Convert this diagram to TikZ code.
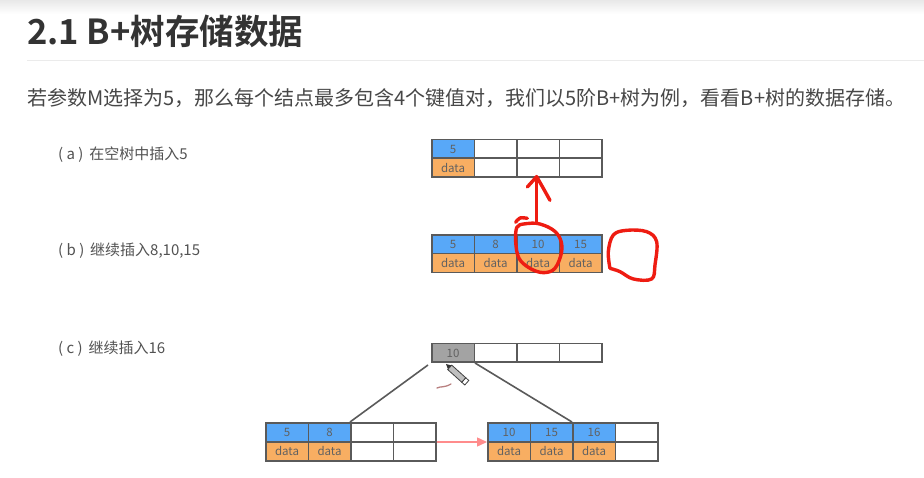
\documentclass[tikz,border=0pt]{standalone}
\usepackage{fontspec}
\setmainfont{Noto Sans CJK SC}
\newfontfamily\titlefont{Noto Sans CJK SC Bold}
\usetikzlibrary{arrows.meta}
\definecolor{keyblue}{HTML}{58A8F8}
\definecolor{valorange}{HTML}{F8AE62}
\definecolor{rootgray}{HTML}{A3A3A3}
\definecolor{edgegray}{HTML}{5A5A5A}
\definecolor{inkred}{HTML}{EE1C12}
\tikzset{
  cell/.style={draw=edgegray,line width=1.5pt,anchor=north west,inner sep=0pt,minimum width=42.5pt,text=black!62,font=\fontsize{11.5}{11.5}\selectfont},
  keycell/.style={cell,fill=keyblue,minimum height=18.5pt},
  valcell/.style={cell,fill=valorange,minimum height=19pt},
  emptycell/.style={cell,fill=white,minimum height=18.5pt},
  emptyval/.style={cell,fill=white,minimum height=19pt},
  rootcell/.style={cell,fill=rootgray,minimum height=18.5pt},
  caption/.style={anchor=west,inner sep=0pt,text=black!68,font=\fontsize{15}{16}\selectfont},
  scribble/.style={draw=inkred,line width=3.4pt,line cap=round,line join=round},
  zoomone/.style={shift={(420,125)},x=0.3333pt,y=-0.3333pt},
  treeedge/.style={draw=edgegray,line width=1.6pt}
}
\begin{document}
\begin{tikzpicture}[x=1pt,y=-1pt]
\useasboundingbox (0,0) rectangle (924,478);
\fill[white] (0,0) rectangle (924,478);
\shade[top color=black!9,bottom color=white] (0,0) rectangle (924,14);
\draw[black!8,line width=0.8pt] (27,60.5) -- (924,60.5);
\node[anchor=west,inner sep=0pt,text=black!80,font=\titlefont\fontsize{34.5}{36}\selectfont] (title) at (27,31) {2.1 B+树存储数据};
\node[anchor=west,inner sep=0pt,text=black!72,font=\fontsize{20}{21}\selectfont] (intro) at (27,98) {若参数M选择为5，那么每个结点最多包含4个键值对，我们以5阶B+树为例，看看B+树的数据存储。};
\node[caption] (capa) at (58,155) {( a )\ \,在空树中插入5};
\node[caption] (capb) at (58,251) {( b )\ \,继续插入8,10,15};
\node[caption] (capc) at (58,349) {( c )\ \,继续插入16};

% row a
\node[keycell] (ak1) at (431,139) {5};
\node[emptycell] (ak2) at (473.5,139) {};
\node[emptycell] (ak3) at (516,139) {};
\node[emptycell] (ak4) at (558.5,139) {};
\node[valcell] (av1) at (431,157.5) {data};
\node[emptyval] (av2) at (473.5,157.5) {};
\node[emptyval] (av3) at (516,157.5) {};
\node[emptyval] (av4) at (558.5,157.5) {};
% row b
\node[keycell] (bk1) at (431,234.5) {5};
\node[keycell] (bk2) at (473.5,234.5) {8};
\node[keycell] (bk3) at (516,234.5) {10};
\node[keycell] (bk4) at (558.5,234.5) {15};
\node[valcell] (bv1) at (431,253) {data};
\node[valcell] (bv2) at (473.5,253) {data};
\node[valcell] (bv3) at (516,253) {data};
\node[valcell] (bv4) at (558.5,253) {data};
% root c
\node[rootcell] (r1) at (431,343) {10};
\node[emptycell] (r2) at (473.5,343) {};
\node[emptycell] (r3) at (516,343) {};
\node[emptycell] (r4) at (558.5,343) {};
% left leaf
\node[keycell] (lk1) at (265,422) {5};
\node[keycell] (lk2) at (307.5,422) {8};
\node[emptycell] (lk3) at (350,422) {};
\node[emptycell] (lk4) at (392.5,422) {};
\node[valcell] (lv1) at (265,441) {data};
\node[valcell] (lv2) at (307.5,441) {data};
\node[emptyval] (lv3) at (350,441) {};
\node[emptyval] (lv4) at (392.5,441) {};
% right leaf
\node[keycell] (rk1) at (487,422) {10};
\node[keycell] (rk2) at (529.5,422) {15};
\node[keycell] (rk3) at (572,422) {16};
\node[emptycell] (rk4) at (614.5,422) {};
\node[valcell] (rv1) at (487,441) {data};
\node[valcell] (rv2) at (529.5,441) {data};
\node[valcell] (rv3) at (572,441) {data};
\node[emptyval] (rv4) at (614.5,441) {};

% connectors
\draw[treeedge] ([xshift=-3pt,yshift=-2pt]r1.south west) -- (lk3.north west);
\draw[treeedge] (r1.south east) -- (rk3.north west);
\draw[draw=red!45!white,line width=1.4pt,-{Triangle[length=10pt,width=9pt]}] (lk4.south east) -- (rk1.south west);

% red ink
\begin{scope}[zoomone]
\draw[scribble] (350,290) -- (350,155);
\draw[scribble] (322,186) -- (350,155) -- (370,190) -- (390,226);
\draw[scribble] plot[smooth,tension=0.6] coordinates {(287,292) (300,279) (322,280)};
\draw[scribble] plot[smooth,tension=0.6] coordinates {(305,298) (290,308) (287,350) (297,400) (330,430) (370,443) (405,430) (425,380) (420,340) (395,312) (350,295) (305,298)};
\draw[scribble] plot[smooth,tension=0.6] coordinates {(570,430) (565,380) (580,330) (620,316) (680,320) (710,350) (705,420) (695,462) (640,462) (600,440) (570,430)};
\end{scope}

% pencil cursor and stray mark
\begin{scope}[shift={(446,364)},rotate=-42]
\fill[black!80] (0,0) -- (5,-2.6) -- (5,2.6) -- cycle;
\draw[black!75,fill=black!25,line width=0.8pt] (5,-3) rectangle (24,3);
\draw[black!75,fill=white,line width=0.8pt] (24,-3) rectangle (28,3);
\end{scope}
\draw[draw=red!45!black!50,line width=1.3pt,line cap=round] (437,388) .. controls (441,386) and (444,388) .. (451,384);
\end{tikzpicture}
\end{document}
